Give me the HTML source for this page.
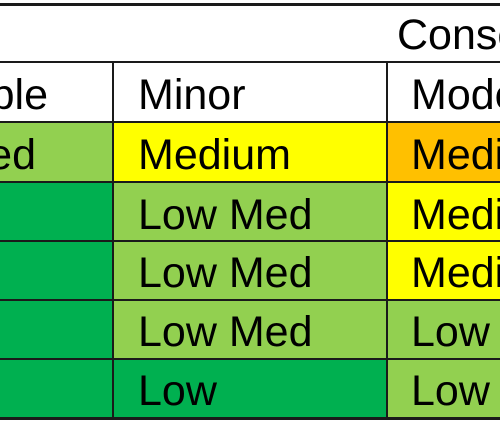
<!DOCTYPE html>
<html><head><meta charset="utf-8"><style>
html,body{margin:0;width:500px;height:423px;overflow:hidden}
body{background:#fff;position:relative;font-family:"Liberation Sans",sans-serif}
div{position:absolute}
.t{font-size:43px;line-height:43px;color:#000;white-space:nowrap}
.h{height:2px;left:0;width:500px;background:#1a1a1a}
.v{width:2px;background:#1a1a1a}
</style></head><body>
<div style="left:0;top:0;width:500px;height:423px;overflow:hidden">
<div style="left:0;top:122px;width:113px;height:60px;background:#92D050"></div>
<div style="left:113px;top:122px;width:274px;height:60px;background:#FFFF00"></div>
<div style="left:387px;top:122px;width:113px;height:60px;background:#FFC000"></div>
<div style="left:0;top:182px;width:113px;height:237px;background:#00B050"></div>
<div style="left:113px;top:182px;width:274px;height:177px;background:#92D050"></div>
<div style="left:387px;top:182px;width:113px;height:118px;background:#FFFF00"></div>
<div style="left:387px;top:300px;width:113px;height:119px;background:#92D050"></div>
<div style="left:113px;top:359px;width:274px;height:60px;background:#00B050"></div>
<div class="h" style="top:3px;height:3px"></div>
<div class="h" style="top:61px"></div>
<div class="h" style="top:121px"></div>
<div class="h" style="top:181px"></div>
<div class="h" style="top:240px"></div>
<div class="h" style="top:299px"></div>
<div class="h" style="top:358px"></div>
<div class="h" style="top:417px;height:3px"></div>
<div class="v" style="left:112px;top:62px;height:357px"></div>
<div class="v" style="left:386px;top:62px;height:357px"></div>
<div class="t" style="left:397px;top:14px">Consequence</div>
<div class="t" style="right:452px;top:74px">Negligible</div>
<div class="t" style="left:138px;top:74px">Minor</div>
<div class="t" style="left:411px;top:74px">Moderate</div>
<div class="t" style="right:464px;top:134px">Low Med</div>
<div class="t" style="left:138px;top:134px">Medium</div>
<div class="t" style="left:411px;top:134px">Medium</div>
<div class="t" style="left:138px;top:194px">Low Med</div>
<div class="t" style="left:411px;top:194px">Medium</div>
<div class="t" style="left:138px;top:252px">Low Med</div>
<div class="t" style="left:411px;top:252px">Medium</div>
<div class="t" style="left:138px;top:311px">Low Med</div>
<div class="t" style="left:411px;top:311px">Low</div>
<div class="t" style="left:138px;top:370px">Low</div>
<div class="t" style="left:411px;top:370px">Low</div>
</div>
</body></html>
